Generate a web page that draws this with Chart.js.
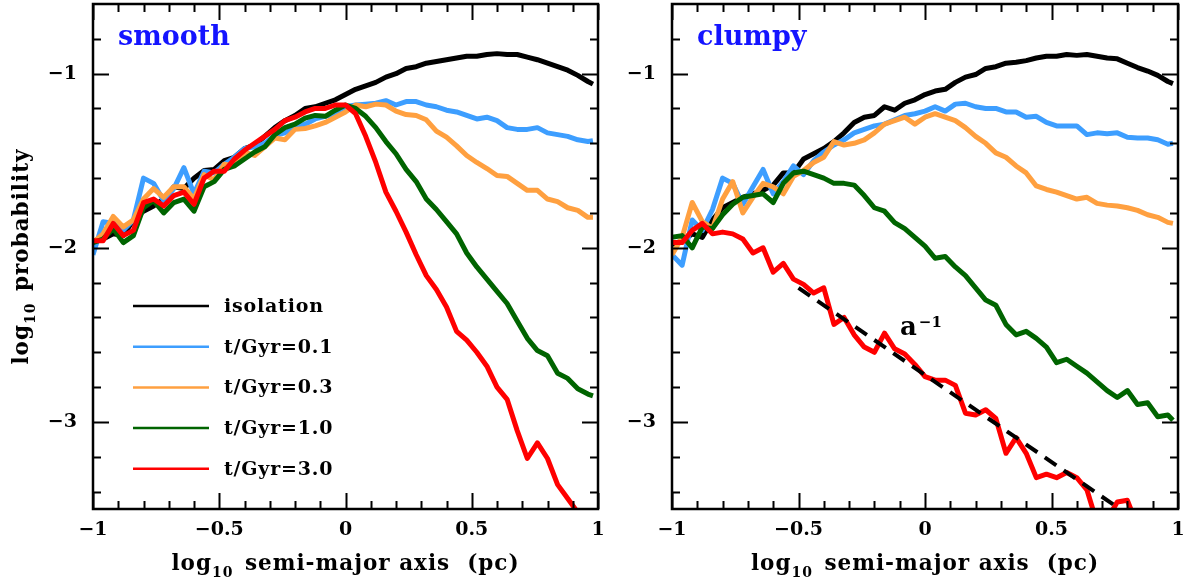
<!DOCTYPE html>
<html><head><meta charset="utf-8">
<script src="https://cdn.jsdelivr.net/npm/chart.js@4"></script>
<style>
html,body{margin:0;padding:0;background:#fff;overflow:hidden;width:1189px;height:583px}
#c1{position:absolute;left:0;top:0}
#c2{position:absolute;left:600px;top:0}
</style></head>
<body>
<canvas id="c1" width="640" height="583"></canvas>
<canvas id="c2" width="589" height="583"></canvas>
<script>
// ---------------- data ----------------
const logA = [-1.00,-0.96,-0.92,-0.88,-0.84,-0.80,-0.76,-0.72,-0.68,-0.64,-0.60,-0.56,-0.52,-0.48,-0.44,-0.40,-0.36,-0.32,-0.28,-0.24,-0.20,-0.16,-0.12,-0.08,-0.04,0.00,0.04,0.08,0.12,0.16,0.20,0.24,0.28,0.32,0.36,0.40,0.44,0.48,0.52,0.56,0.60,0.64,0.68,0.72,0.76,0.80,0.84,0.88,0.92,0.96,0.98];

const seriesLabels = ['isolation','t/Gyr=0.1','t/Gyr=0.3','t/Gyr=1.0','t/Gyr=3.0'];

// smooth panel
const smoothIso = [-1.96,-1.95,-1.92,-1.93,-1.84,-1.79,-1.76,-1.72,-1.65,-1.66,-1.60,-1.556,-1.55,-1.50,-1.48,-1.43,-1.41,-1.36,-1.31,-1.27,-1.24,-1.20,-1.19,-1.17,-1.15,-1.12,-1.09,-1.07,-1.05,-1.02,-1.00,-0.97,-0.96,-0.94,-0.93,-0.92,-0.91,-0.90,-0.90,-0.89,-0.885,-0.89,-0.89,-0.905,-0.92,-0.94,-0.96,-0.98,-1.01,-1.045,-1.06];
const smoothT01 = [-2.04,-1.85,-1.86,-1.90,-1.84,-1.60,-1.63,-1.73,-1.66,-1.54,-1.69,-1.56,-1.57,-1.52,-1.48,-1.43,-1.42,-1.40,-1.355,-1.34,-1.31,-1.29,-1.26,-1.245,-1.23,-1.19,-1.18,-1.175,-1.17,-1.155,-1.18,-1.16,-1.16,-1.18,-1.19,-1.21,-1.22,-1.24,-1.26,-1.25,-1.27,-1.31,-1.32,-1.32,-1.31,-1.34,-1.35,-1.36,-1.38,-1.39,-1.385];
const smoothT03 = [-1.97,-1.92,-1.82,-1.88,-1.84,-1.72,-1.66,-1.71,-1.65,-1.65,-1.72,-1.58,-1.61,-1.52,-1.53,-1.45,-1.47,-1.42,-1.37,-1.38,-1.32,-1.315,-1.30,-1.28,-1.25,-1.22,-1.18,-1.19,-1.175,-1.18,-1.215,-1.235,-1.24,-1.265,-1.33,-1.365,-1.415,-1.47,-1.51,-1.545,-1.585,-1.59,-1.63,-1.67,-1.67,-1.72,-1.735,-1.77,-1.785,-1.825,-1.825];
const smoothT10 = [-1.97,-1.95,-1.89,-1.97,-1.93,-1.77,-1.73,-1.80,-1.74,-1.72,-1.79,-1.65,-1.62,-1.55,-1.53,-1.49,-1.45,-1.42,-1.35,-1.31,-1.29,-1.255,-1.24,-1.245,-1.21,-1.18,-1.20,-1.245,-1.31,-1.39,-1.46,-1.55,-1.62,-1.72,-1.78,-1.85,-1.92,-2.03,-2.11,-2.18,-2.25,-2.32,-2.42,-2.52,-2.59,-2.62,-2.72,-2.75,-2.81,-2.84,-2.85];
const smoothT30 = [-1.96,-1.96,-1.86,-1.93,-1.90,-1.74,-1.72,-1.76,-1.70,-1.68,-1.75,-1.60,-1.56,-1.56,-1.49,-1.44,-1.40,-1.36,-1.32,-1.27,-1.25,-1.22,-1.20,-1.20,-1.18,-1.18,-1.23,-1.36,-1.51,-1.68,-1.79,-1.91,-2.04,-2.16,-2.24,-2.34,-2.48,-2.53,-2.60,-2.68,-2.80,-2.87,-3.05,-3.21,-3.12,-3.21,-3.36,-3.44,-3.52,null,null];

// clumpy panel
const clumpyIso = [-1.98,-1.96,-1.92,-1.94,-1.84,-1.77,-1.74,-1.71,-1.69,-1.67,-1.64,-1.57,-1.57,-1.49,-1.46,-1.43,-1.39,-1.34,-1.28,-1.25,-1.24,-1.19,-1.21,-1.17,-1.15,-1.12,-1.10,-1.09,-1.05,-1.02,-1.005,-0.97,-0.96,-0.94,-0.935,-0.925,-0.91,-0.90,-0.90,-0.89,-0.895,-0.89,-0.90,-0.91,-0.915,-0.94,-0.965,-0.985,-1.01,-1.045,-1.057];
const clumpyT01 = [-2.04,-2.10,-1.84,-1.90,-1.78,-1.60,-1.63,-1.75,-1.65,-1.55,-1.69,-1.62,-1.53,-1.58,-1.50,-1.45,-1.41,-1.38,-1.34,-1.32,-1.30,-1.29,-1.265,-1.24,-1.23,-1.215,-1.19,-1.215,-1.175,-1.17,-1.19,-1.20,-1.20,-1.22,-1.22,-1.25,-1.245,-1.28,-1.30,-1.30,-1.30,-1.35,-1.34,-1.345,-1.34,-1.365,-1.37,-1.37,-1.38,-1.405,-1.40];
const clumpyT03 = [-2.04,-1.94,-1.74,-1.85,-1.89,-1.72,-1.62,-1.80,-1.71,-1.63,-1.65,-1.69,-1.59,-1.556,-1.51,-1.48,-1.39,-1.41,-1.40,-1.38,-1.34,-1.29,-1.27,-1.25,-1.29,-1.25,-1.23,-1.25,-1.27,-1.31,-1.36,-1.40,-1.455,-1.48,-1.53,-1.57,-1.645,-1.665,-1.68,-1.70,-1.72,-1.71,-1.745,-1.755,-1.76,-1.77,-1.785,-1.81,-1.825,-1.854,-1.86];
const clumpyT10 = [-1.94,-1.93,-2.00,-1.88,-1.89,-1.81,-1.75,-1.71,-1.70,-1.69,-1.74,-1.63,-1.57,-1.56,-1.58,-1.60,-1.63,-1.63,-1.64,-1.70,-1.77,-1.79,-1.855,-1.89,-1.94,-1.99,-2.06,-2.05,-2.11,-2.16,-2.23,-2.30,-2.33,-2.44,-2.50,-2.48,-2.52,-2.57,-2.66,-2.64,-2.68,-2.72,-2.77,-2.82,-2.86,-2.82,-2.90,-2.89,-2.97,-2.96,-2.99];
const clumpyT30 = [-1.97,-1.97,-1.90,-1.86,-1.92,-1.91,-1.92,-1.95,-2.03,-2.00,-2.14,-2.09,-2.18,-2.21,-2.26,-2.23,-2.44,-2.40,-2.50,-2.57,-2.60,-2.49,-2.58,-2.61,-2.67,-2.74,-2.76,-2.76,-2.79,-2.95,-2.96,-2.93,-2.98,-3.18,-3.09,-3.18,-3.32,-3.30,-3.32,-3.29,-3.32,-3.39,-3.58,-3.56,-3.46,-3.45,-3.60,null,null,null,null];

// a^-1 guide line (clumpy panel)
const guideX = [-0.50, 0.80];
const guideY = [-2.23, -3.53];

// axes
const xTickValues = [-1, -0.5, 0, 0.5, 1];
const yTickValues = [-3, -2, -1];
const xRange = [-1, 1];
const yRange = [-3.5, -0.6];

// ---------------- styling ----------------
const COLORS = ['#000000', '#3d9eff', '#ffa040', '#006400', '#ff0000'];
const FONT = '"DejaVu Serif", serif';

function fmtTick(v) {
  if (v === 0) return '0';
  return (v < 0 ? '\u2212' : '') + String(Math.abs(v));
}

function drawLogText(ctx, cx, y, rest, size) {
  const main = `bold ${size}px ${FONT}`;
  const sub = `bold 14px ${FONT}`;
  ctx.letterSpacing = '1px';
  ctx.font = main; const w1 = ctx.measureText('log').width;
  ctx.font = sub; const w2 = ctx.measureText('10').width;
  ctx.font = main; const w3 = ctx.measureText(rest).width;
  const gap = 3;
  let x = cx - (w1 + w2 + gap + w3) / 2;
  ctx.textAlign = 'left'; ctx.textBaseline = 'alphabetic'; ctx.fillStyle = '#000';
  ctx.font = main; ctx.fillText('log', x, y); x += w1;
  ctx.font = sub; ctx.fillText('10', x, y + 7); x += w2 + gap;
  ctx.font = main; ctx.fillText(rest, x, y);
  ctx.letterSpacing = '0px';
}

const framePlugin = {
  id: 'frameTicks',
  afterDraw(chart) {
    const { ctx, chartArea: a, scales: { x, y } } = chart;
    ctx.save();
    ctx.strokeStyle = '#000';
    ctx.lineWidth = 2;
    ctx.beginPath();
    for (let i = -10; i <= 10; i++) {
      const px = Math.round(x.getPixelForValue(i / 10)) + 0.5;
      const L = (i % 5 === 0) ? 16 : 8;
      ctx.moveTo(px, a.bottom); ctx.lineTo(px, a.bottom - L);
      ctx.moveTo(px, a.top); ctx.lineTo(px, a.top + L);
    }
    for (let i = -17; i <= -4; i++) {
      const py = Math.round(y.getPixelForValue(i / 5)) + 0.5;
      const L = (i % 5 === 0) ? 16 : 8;
      ctx.moveTo(a.left, py); ctx.lineTo(a.left + L, py);
      ctx.moveTo(a.right, py); ctx.lineTo(a.right - L, py);
    }
    ctx.stroke();
    ctx.lineWidth = 2.5;
    ctx.strokeRect(a.left, a.top, a.right - a.left, a.bottom - a.top);
    ctx.restore();
  }
};

const textPlugin = {
  id: 'panelText',
  afterDraw(chart) {
    const o = chart.options.plugins.panelText;
    const { ctx, chartArea: a } = chart;
    ctx.save();
    // panel name
    ctx.font = `bold 27px ${FONT}`;
    ctx.fillStyle = '#1414ff';
    ctx.textAlign = 'left'; ctx.textBaseline = 'alphabetic';
    ctx.fillText(o.name, a.left + 25, a.top + 41);
    // x title
    drawLogText(ctx, (a.left + a.right) / 2, 570, ' semi-major axis  (pc)', 21.5);
    // y title
    if (o.yTitle) {
      ctx.save();
      ctx.translate(28, (a.top + a.bottom) / 2);
      ctx.rotate(-Math.PI / 2);
      drawLogText(ctx, 0, 0, ' probability', 21.5);
      ctx.restore();
    }
    // legend
    if (o.legend) {
      chart.data.datasets.forEach((ds, i) => {
        if (!ds.legendLabel) return;
        const ly = 306 + i * 40.7;
        ctx.strokeStyle = ds.borderColor; ctx.lineWidth = 2.5;
        ctx.beginPath(); ctx.moveTo(a.left + 40, ly); ctx.lineTo(a.left + 116, ly); ctx.stroke();
        ctx.fillStyle = '#000'; ctx.font = `bold 19px ${FONT}`;
        ctx.letterSpacing = '0.8px';
        ctx.textAlign = 'left'; ctx.textBaseline = 'middle';
        ctx.fillText(ds.legendLabel, a.left + 131, ly + 1);
        ctx.letterSpacing = '0px';
      });
    }
    // a^-1
    if (o.slope) {
      ctx.fillStyle = '#000'; ctx.textAlign = 'left'; ctx.textBaseline = 'alphabetic';
      ctx.font = `bold 26px ${FONT}`;
      ctx.fillText('a', a.left + 228, 335);
      const wa = ctx.measureText('a').width;
      ctx.font = `bold 15px ${FONT}`;
      ctx.fillText('\u22121', a.left + 228 + wa + 2, 327);
    }
    ctx.restore();
  }
};

function makeChart(id, values, cfg) {
  const datasets = values.map((vals, i) => ({
    label: seriesLabels[i],
    legendLabel: seriesLabels[i],
    data: logA.map((x, j) => ({ x, y: vals[j] })),
    borderColor: COLORS[i],
    borderWidth: 5,
    pointRadius: 0,
    tension: 0,
    fill: false,
    spanGaps: false,
    clip: 0,
    order: 10 - i,
    borderJoinStyle: 'round',
    borderCapStyle: 'butt'
  }));
  if (cfg.guide) {
    datasets.push({
      label: 'a^-1',
      data: guideX.map((x, j) => ({ x, y: guideY[j] })),
      borderColor: '#000', borderWidth: 4, borderDash: [14, 9],
      pointRadius: 0, fill: false, clip: 0, order: 0
    });
  }
  return new Chart(document.getElementById(id), {
    type: 'line',
    data: { datasets },
    plugins: [framePlugin, textPlugin],
    options: {
      responsive: false,
      animation: false,
      devicePixelRatio: 1,
      layout: { padding: { left: 0, right: cfg.padRight, top: 4, bottom: 0 } },
      plugins: {
        legend: { display: false },
        tooltip: { enabled: false },
        panelText: { name: cfg.name, yTitle: cfg.yTitle, legend: cfg.legend, slope: cfg.guide }
      },
      scales: {
        x: {
          type: 'linear', min: xRange[0], max: xRange[1],
          afterBuildTicks: s => { s.ticks = xTickValues.map(v => ({ value: v })); },
          afterFit: s => { s.height = 74; s.paddingLeft = 0; s.paddingRight = 0; },
          grid: { display: false, drawTicks: false },
          border: { display: false },
          ticks: { callback: v => fmtTick(v), autoSkip: false, maxRotation: 0, padding: 10,
                   color: '#000', font: { family: FONT, size: 19, weight: 'bold' } }
        },
        y: {
          type: 'linear', min: yRange[0], max: yRange[1],
          afterBuildTicks: s => { s.ticks = yTickValues.map(v => ({ value: v })); },
          afterFit: s => { s.width = cfg.yWidth; s.paddingTop = 0; s.paddingBottom = 0; },
          grid: { display: false, drawTicks: false },
          border: { display: false },
          ticks: { callback: v => fmtTick(v), autoSkip: false, padding: 16,
                   color: '#000', font: { family: FONT, size: 19, weight: 'bold' } }
        }
      }
    }
  });
}

makeChart('c1', [smoothIso, smoothT01, smoothT03, smoothT10, smoothT30],
  { name: 'smooth', yWidth: 93, padRight: 42, yTitle: true, legend: true, guide: false });
makeChart('c2', [clumpyIso, clumpyT01, clumpyT03, clumpyT10, clumpyT30],
  { name: 'clumpy', yWidth: 72, padRight: 11, yTitle: false, legend: false, guide: true });
</script>
</body></html>
